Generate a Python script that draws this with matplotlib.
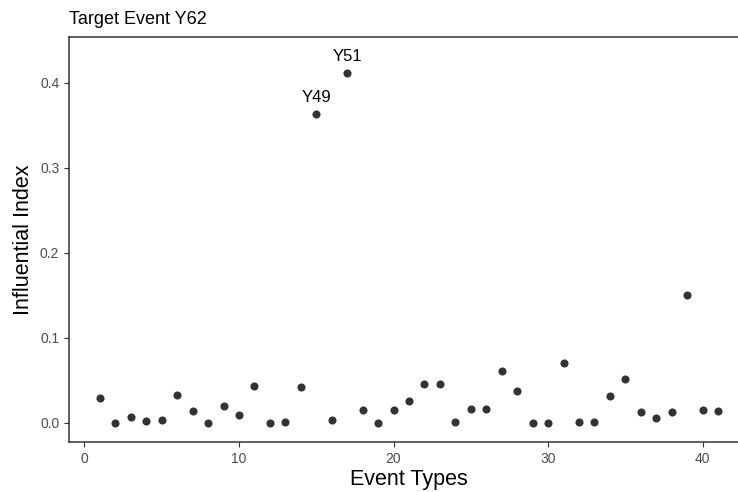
import matplotlib
matplotlib.use("Agg")
import matplotlib.pyplot as plt

plt.rcParams["font.family"] = ["Liberation Sans", "DejaVu Sans"]

# influence of each event type on target event Y62
event_types = list(range(1, 42))
influence = [0.029, 0.0, 0.0067, 0.0024, 0.003, 0.033, 0.0137, 0.0, 0.020, 0.0098,
             0.044, 0.0, 0.001, 0.042, 0.364, 0.003, 0.412, 0.015, 0.0, 0.015,
             0.026, 0.046, 0.046, 0.001, 0.017, 0.016, 0.0616, 0.038, 0.0005, 0.0,
             0.0706, 0.001, 0.0015, 0.0318, 0.0514, 0.0126, 0.0063, 0.0126, 0.150, 0.015,
             0.014]
labelled = {15: "Y49", 17: "Y51"}

W, H = 738, 492
fig = plt.figure(figsize=(W / 100, H / 100), dpi=100)
# panel runs past the right edge of the canvas
left, right, top, bottom = 69, 749, 37, 442
ax = fig.add_axes([left / W, 1 - bottom / H, (right - left) / W, (bottom - top) / H])

ax.scatter(event_types, influence, s=34, color="#333333", zorder=3, linewidths=0)
for i, name in labelled.items():
    ax.annotate(name, (i, influence[i - 1]), xytext=(0, 11.5), textcoords="offset points",
                ha="center", va="center", fontsize=12, color="black")

ax.set_xlim(-1, 43)
ax.set_ylim(-0.0224, 0.454)
ax.set_xticks([0, 10, 20, 30, 40])
ax.set_yticks([0.0, 0.1, 0.2, 0.3, 0.4])
ax.set_yticklabels(["0.0", "0.1", "0.2", "0.3", "0.4"])
for s in ax.spines.values():
    s.set_color("#333333")
    s.set_linewidth(1.1)
ax.tick_params(colors="#333333", length=3.5, width=0.8, labelsize=10, labelcolor="#4d4d4d")

ax.set_xlabel("Event Types", fontsize=15.5, labelpad=2)
ax.set_ylabel("Influential Index", fontsize=15.5, labelpad=4)
ax.set_title("Target Event Y62", loc="left", fontsize=13, pad=9)

fig.savefig("out.png", dpi=100)
